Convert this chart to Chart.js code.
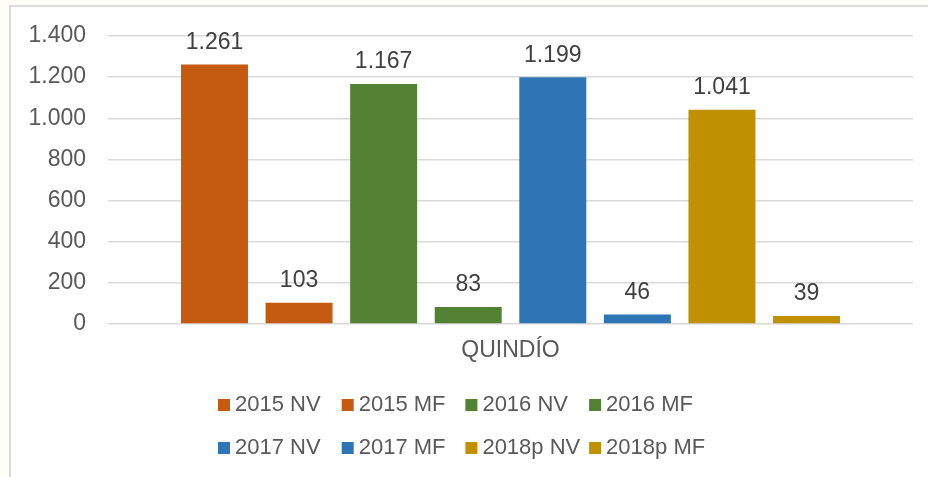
<!DOCTYPE html>
<html>
<head>
<meta charset="utf-8">
<script src="https://cdn.jsdelivr.net/npm/chart.js@4"></script>
<style>
  html, body { margin: 0; padding: 0; width: 928px; height: 477px; overflow: hidden; background: #fefef6; }
  #frame { position: absolute; left: 9px; top: 5px; width: 940px; height: 490px; background: #ffffff;
           border-left: 2px solid #dcdcdc; border-top: 2px solid #dcdcdc; }
  #wrap { position: absolute; left: 0; top: 0; width: 928px; height: 477px; }
</style>
</head>
<body>
<div id="frame"></div>
<div id="wrap"><canvas id="chart" width="928" height="477"></canvas></div>
<script>
// Categories on the x axis
const categories = ['QUINDÍO'];

// One series per year and type
const seriesLabels = ['2015 NV', '2015 MF', '2016 NV', '2016 MF', '2017 NV', '2017 MF', '2018p NV', '2018p MF'];
const seriesValues = [1261, 103, 1167, 83, 1199, 46, 1041, 39];
const seriesColors = ['#C55A11', '#C55A11', '#548235', '#548235', '#2E75B6', '#2E75B6', '#BF9000', '#BF9000'];

// Y axis tick values
const yTicks = [0, 200, 400, 600, 800, 1000, 1200, 1400];

const FONT = '"Liberation Sans", Arial, sans-serif';

function fmtThousands(v) {
  return String(v).replace(/\B(?=(\d{3})+(?!\d))/g, '.');
}

const datasets = seriesLabels.map((name, i) => ({
  label: name,
  data: [seriesValues[i]],
  backgroundColor: seriesColors[i],
  borderWidth: 0,
  categoryPercentage: 0.8405,
  barPercentage: 0.792
}));

// Value labels above each bar
const valueLabels = {
  id: 'valueLabels',
  afterDatasetsDraw(chart) {
    const ctx = chart.ctx;
    ctx.save();
    ctx.font = '23px ' + FONT;
    ctx.fillStyle = '#404040';
    ctx.textAlign = 'center';
    ctx.textBaseline = 'alphabetic';
    chart.data.datasets.forEach((ds, i) => {
      const meta = chart.getDatasetMeta(i);
      meta.data.forEach((bar, j) => {
        ctx.fillText(fmtThousands(ds.data[j]), bar.x, bar.y - 15.5);
      });
    });
    ctx.restore();
  }
};

// Legend drawn as a 4-column grid under the plot
const gridLegend = {
  id: 'gridLegend',
  afterDraw(chart) {
    const ctx = chart.ctx;
    const cols = 4, colW = 123.7, startX = 218;
    const rowY = [405, 448];
    ctx.save();
    ctx.font = '22px ' + FONT;
    ctx.textBaseline = 'middle';
    ctx.textAlign = 'left';
    chart.data.datasets.forEach((ds, i) => {
      const c = i % cols, r = Math.floor(i / cols);
      const x = startX + c * colW, y = rowY[r];
      ctx.fillStyle = ds.backgroundColor;
      ctx.fillRect(x, y - 6, 12, 12);
      ctx.fillStyle = '#595959';
      ctx.fillText(ds.label, x + 17, y);
    });
    ctx.restore();
  }
};

new Chart(document.getElementById('chart'), {
  type: 'bar',
  data: { labels: categories, datasets },
  options: {
    responsive: false,
    devicePixelRatio: 1,
    animation: false,
    layout: { padding: { top: 36, right: 15, bottom: 103, left: 0 } },
    plugins: {
      legend: { display: false },
      tooltip: { enabled: false }
    },
    scales: {
      x: {
        grid: { display: false, drawTicks: false },
        border: { display: false },
        ticks: { color: '#595959', font: { family: FONT, size: 23 }, padding: 13 },
        afterFit(scale) { scale.height = 50; }
      },
      y: {
        min: 0,
        max: 1400,
        afterBuildTicks(scale) { scale.ticks = yTicks.map(v => ({ value: v })); },
        grid: { color: '#d9d9d9', lineWidth: 1.5, drawTicks: false },
        border: { display: false },
        ticks: {
          color: '#595959',
          font: { family: FONT, size: 23 },
          padding: 22,
          callback: (v) => fmtThousands(v)
        },
        afterFit(scale) { scale.width = 108; }
      }
    }
  },
  plugins: [valueLabels, gridLegend]
});
</script>
</body>
</html>
